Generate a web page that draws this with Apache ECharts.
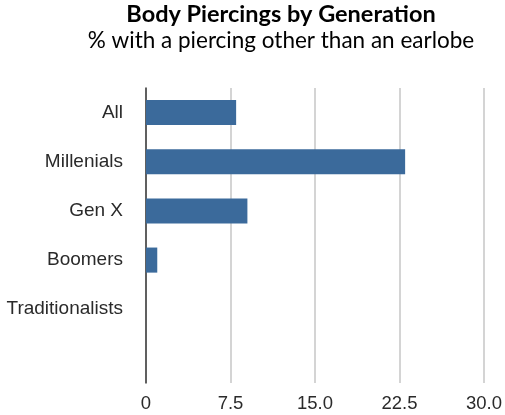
<!DOCTYPE html>
<html>
<head>
<meta charset="utf-8">
<script src="https://cdn.jsdelivr.net/npm/echarts@6/dist/echarts.min.js"></script>
<style>
  html, body { margin: 0; padding: 0; background: #ffffff; }
  #chart { width: 505px; height: 415px; }
</style>
</head>
<body>
<div id="chart"></div>
<script>
// Share of each generation with a piercing other than an earlobe (%)
const generations = ['All', 'Millenials', 'Gen X', 'Boomers', 'Traditionalists', ''];
const piercedPct = [8, 23, 9, 1, 0, null];
const tickLabels = ['0', '7.5', '15.0', '22.5', '30.0'];

const titleText = 'Body Piercings by Generation';
const subtitleText = '% with a piercing other than an earlobe';

const chart = echarts.init(document.getElementById('chart'), null, { renderer: 'canvas' });

chart.setOption({
  animation: false,
  backgroundColor: '#ffffff',
  graphic: [
    {
      type: 'text',
      x: 281, y: 14.5,
      style: {
        text: titleText,
        font: 'bold 23.5px Lato, "Open Sans", sans-serif',
        fill: '#000000',
        textAlign: 'center',
        textVerticalAlign: 'middle'
      }
    },
    {
      type: 'text',
      x: 281, y: 40.5,
      style: {
        text: subtitleText,
        font: '22.5px Lato, "Open Sans", sans-serif',
        fill: '#000000',
        textAlign: 'center',
        textVerticalAlign: 'middle'
      }
    }
  ],
  grid: { left: 146, right: 21, top: 88, bottom: 32, containLabel: false },
  xAxis: {
    type: 'value',
    min: 0,
    max: 30,
    interval: 7.5,
    axisLine: { show: false },
    axisTick: { show: false },
    splitLine: { show: true, lineStyle: { color: '#c6c6c6', width: 1.5 } },
    axisLabel: {
      margin: 11,
      color: '#2a2a2a',
      fontSize: 18.5,
      fontFamily: '"Liberation Sans", Arial, sans-serif',
      formatter: (v) => tickLabels[Math.round(v / 7.5)]
    }
  },
  yAxis: {
    type: 'category',
    inverse: true,
    data: generations,
    axisLine: { show: true, lineStyle: { color: '#3a3a3a', width: 1.5 } },
    axisTick: { show: false },
    splitLine: { show: false },
    axisLabel: {
      margin: 23,
      color: '#2a2a2a',
      fontSize: 19,
      fontFamily: '"Liberation Sans", Arial, sans-serif'
    }
  },
  series: [
    {
      type: 'bar',
      data: piercedPct,
      barWidth: '51%',
      itemStyle: { color: '#3b6a9b' },
      z: 3
    }
  ]
});
</script>
</body>
</html>
